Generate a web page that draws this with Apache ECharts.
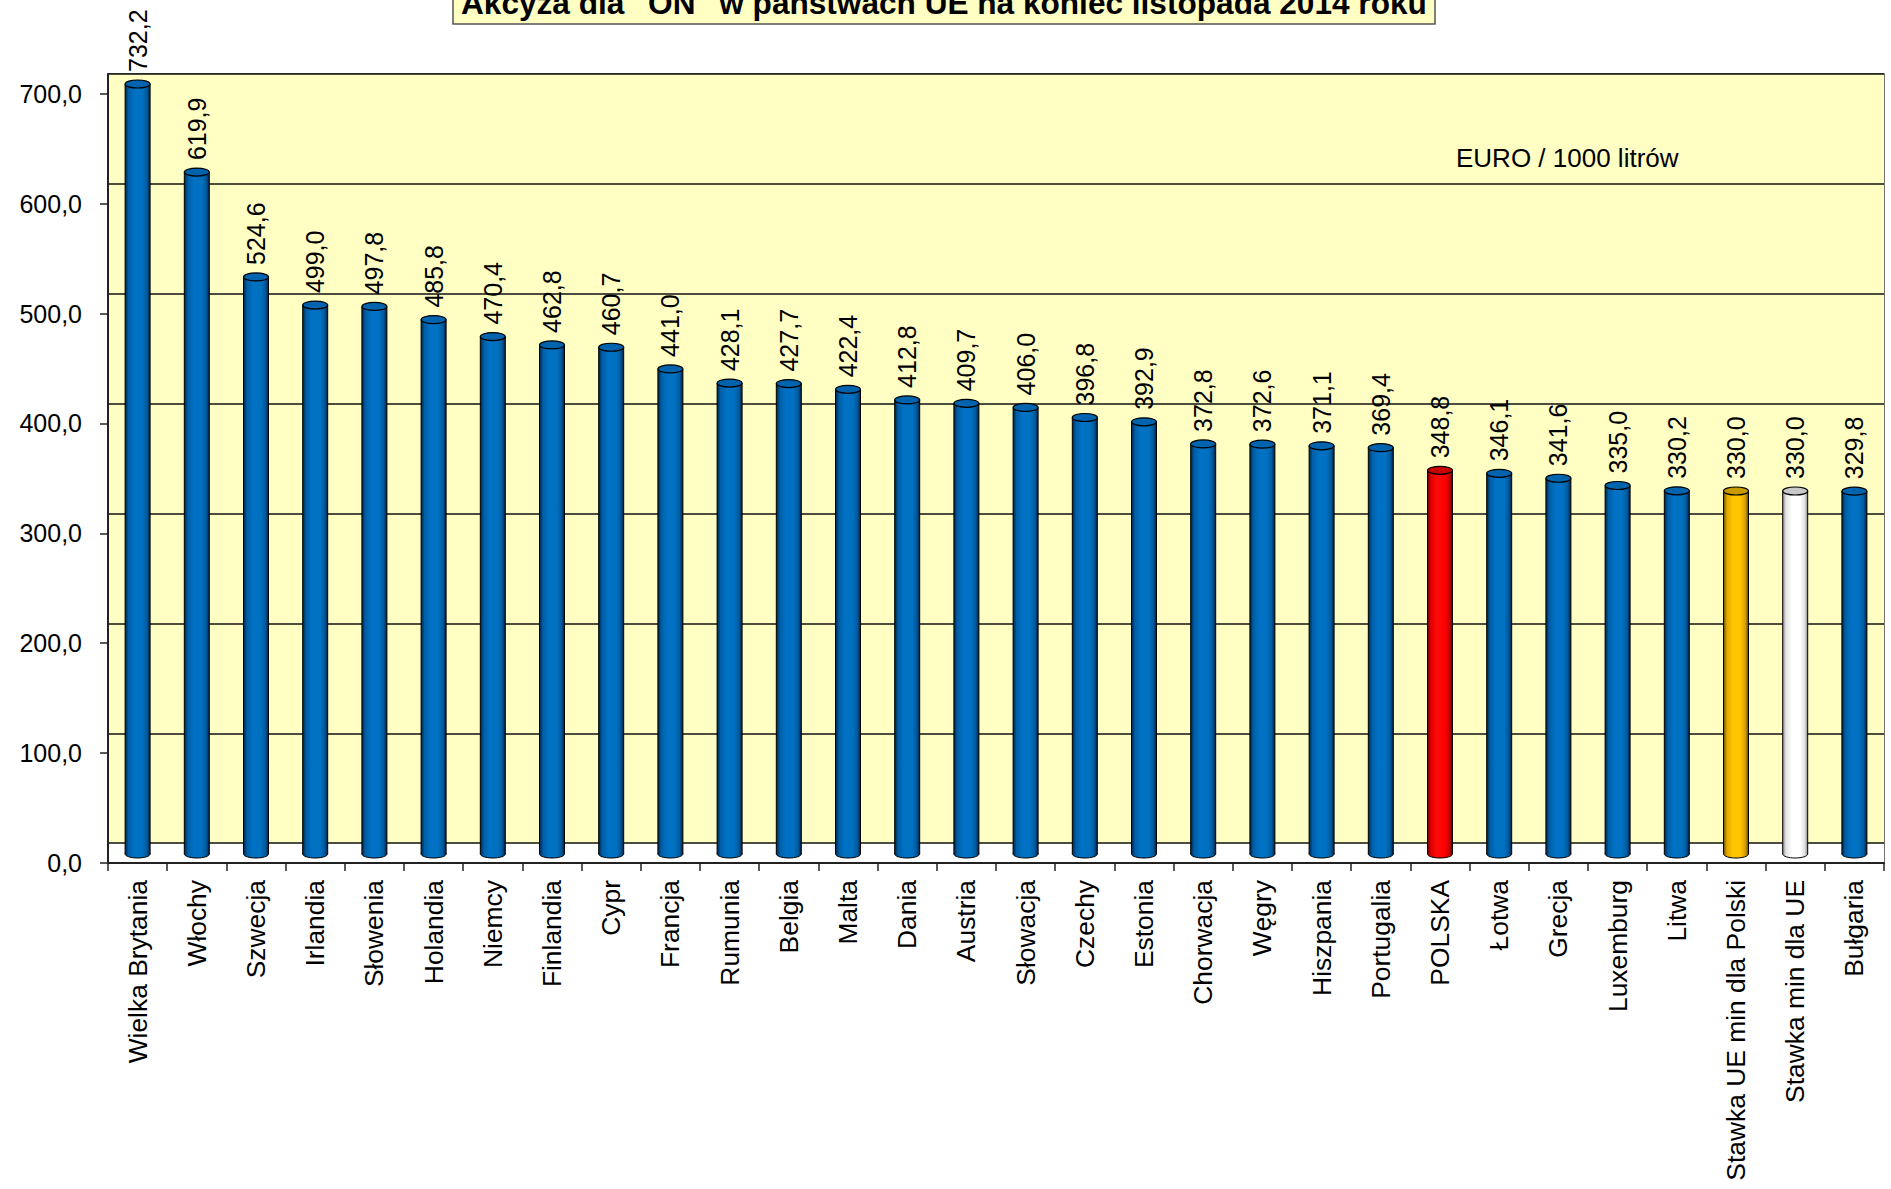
<!DOCTYPE html>
<html>
<head>
<meta charset="utf-8">
<script src="https://cdn.jsdelivr.net/npm/echarts@6/dist/echarts.min.js"></script>
<style>
  html, body { margin: 0; padding: 0; background: #ffffff; }
  #chart { width: 1891px; height: 1189px; }
</style>
</head>
<body>
<div id="chart"></div>
<script>
// ---- data ----
const categories = ['Wielka Brytania', 'Włochy', 'Szwecja', 'Irlandia', 'Słowenia', 'Holandia', 'Niemcy',
  'Finlandia', 'Cypr', 'Francja', 'Rumunia', 'Belgia', 'Malta', 'Dania', 'Austria', 'Słowacja', 'Czechy',
  'Estonia', 'Chorwacja', 'Węgry', 'Hiszpania', 'Portugalia', 'POLSKA', 'Łotwa', 'Grecja', 'Luxemburg',
  'Litwa', 'Stawka UE min dla Polski', 'Stawka min dla UE', 'Bułgaria'];
const values = [732.2, 619.9, 524.6, 499.0, 497.8, 485.8, 470.4, 462.8, 460.7, 441.0, 428.1, 427.7, 422.4,
  412.8, 409.7, 406.0, 396.8, 392.9, 372.8, 372.6, 371.1, 369.4, 348.8, 346.1, 341.6, 335.0, 330.2, 330.0,
  330.0, 329.8];
const yTicks = [0, 100, 200, 300, 400, 500, 600, 700];
const titleText = 'Akcyza dla "ON" w państwach UE na koniec listopada 2014 roku';
const unitText = 'EURO / 1000 litrów';

// ---- styles ----
const FONT = '"Liberation Sans", Arial, sans-serif';
const WALL = '#FFFFC4';
const palettes = {
  blue:  { stops: ['#00244a', '#005ea6', '#0072c4', '#0070c0', '#00589a', '#001f40'], cap: '#0063ad' },
  red:   { stops: ['#6a0000', '#e00000', '#ff0a0a', '#ff0000', '#c80000', '#5a0000'], cap: '#c80000' },
  gold:  { stops: ['#6b4e00', '#e0a800', '#ffc800', '#ffc000', '#d09a00', '#5e4400'], cap: '#c99a00' },
  white: { stops: ['#8c8c8c', '#e6e6e6', '#ffffff', '#ffffff', '#e0e0e0', '#8a8a8a'], cap: '#c8c8c8' }
};
const highlight = { 'POLSKA': 'red', 'Stawka UE min dla Polski': 'gold', 'Stawka min dla UE': 'white' };
const stopPos = [0, 0.14, 0.38, 0.7, 0.88, 1];
function grad(p) {
  return new echarts.graphic.LinearGradient(0, 0, 1, 0,
    p.stops.map((c, k) => ({ offset: stopPos[k], color: c })));
}
const fmt = v => v.toFixed(1).replace('.', ',');

const BAR_W = 25, CAP_RY = 4;

const chart = echarts.init(document.getElementById('chart'), null, { renderer: 'svg' });

chart.setOption({
  animation: false,
  backgroundColor: '#ffffff',
  textStyle: { fontFamily: FONT },
  title: [
    {
      text: titleText,
      left: 453, top: -18,
      padding: [4, 8],
      backgroundColor: WALL,
      borderColor: '#555', borderWidth: 1.5,
      textStyle: { fontFamily: FONT, fontSize: 31.6, fontWeight: 'bold', color: '#000', lineHeight: 34 }
    },
    {
      text: unitText,
      left: 1456, top: 145, padding: 0,
      textStyle: { fontFamily: FONT, fontSize: 26, fontWeight: 'normal', color: '#000' }
    }
  ],
  grid: [
    { left: 108, right: 7, top: 74, bottom: 326, show: true, borderColor: '#444', borderWidth: 1.5, backgroundColor: 'transparent' },
    { left: 108, right: 7, top: 84, bottom: 335 }
  ],
  xAxis: [
    {
      type: 'category', gridIndex: 0, data: categories,
      axisLine: { lineStyle: { color: '#222', width: 2 } },
      axisTick: { show: true, length: 8, lineStyle: { color: '#222', width: 1.5 } },
      axisLabel: { interval: 0, rotate: 90, margin: 17, fontSize: 26.4, color: '#000', fontFamily: FONT },
      splitLine: { show: false }
    },
    { type: 'category', gridIndex: 1, data: categories, show: false }
  ],
  yAxis: [
    {
      type: 'value', gridIndex: 0, min: 0, max: 718, interval: 100,
      axisLine: { show: true, lineStyle: { color: '#222', width: 2 } },
      axisTick: { show: true, length: 8, customValues: yTicks, lineStyle: { color: '#222', width: 1.5 } },
      axisLabel: {
        customValues: yTicks, margin: 26, fontSize: 25, color: '#000', fontFamily: FONT,
        formatter: v => (v % 100 === 0 ? fmt(v) : '')
      },
      splitLine: { show: false }
    },
    {
      type: 'value', gridIndex: 0, min: -18, max: 700, splitNumber: 7,
      axisLine: { show: false }, axisTick: { show: false }, axisLabel: { show: false },
      splitLine: { show: true, lineStyle: { color: '#111', width: 1.6 } },
      splitArea: { show: true, areaStyle: { color: ['#ffffff', WALL, WALL, WALL, WALL, WALL, WALL, WALL] } }
    },
    { type: 'value', gridIndex: 1, min: 0, max: 700, show: false }
  ],
  series: [
    {
      type: 'custom',
      name: 'Akcyza',
      xAxisIndex: 1, yAxisIndex: 2,
      data: values.map((v, i) => [i, v]),
      renderItem: function (params, api) {
        const i = api.value(0), v = api.value(1);
        const top = api.coord([i, v]);
        const base = api.coord([i, 0]);
        const cs = params.coordSys;
        const cx = top[0];
        const topY = Math.max(top[1], cs.y);
        const baseY = base[1];
        const p = palettes[highlight[categories[i]] || 'blue'];
        const g = grad(p);
        const x0 = cx - BAR_W / 2, x1 = cx + BAR_W / 2;
        return {
          type: 'group',
          children: [
            { type: 'ellipse', shape: { cx: cx, cy: baseY, rx: BAR_W / 2, ry: CAP_RY },
              style: { fill: g, stroke: '#000', lineWidth: 1 } },
            { type: 'rect', shape: { x: x0, y: topY, width: BAR_W, height: baseY - topY },
              style: { fill: g } },
            { type: 'line', shape: { x1: x0, y1: topY, x2: x0, y2: baseY }, style: { stroke: '#000', lineWidth: 1 } },
            { type: 'line', shape: { x1: x1, y1: topY, x2: x1, y2: baseY }, style: { stroke: '#000', lineWidth: 1 } },
            { type: 'ellipse', shape: { cx: cx, cy: topY, rx: BAR_W / 2, ry: CAP_RY },
              style: { fill: p.cap, stroke: '#000', lineWidth: 1.2 } },
            { type: 'text', x: cx, y: topY - CAP_RY - 8, rotation: Math.PI / 2,
              style: { text: fmt(v), fill: '#000', fontSize: 25, fontFamily: FONT,
                       align: 'left', verticalAlign: 'middle' } }
          ]
        };
      }
    }
  ]
});
</script>
</body>
</html>
